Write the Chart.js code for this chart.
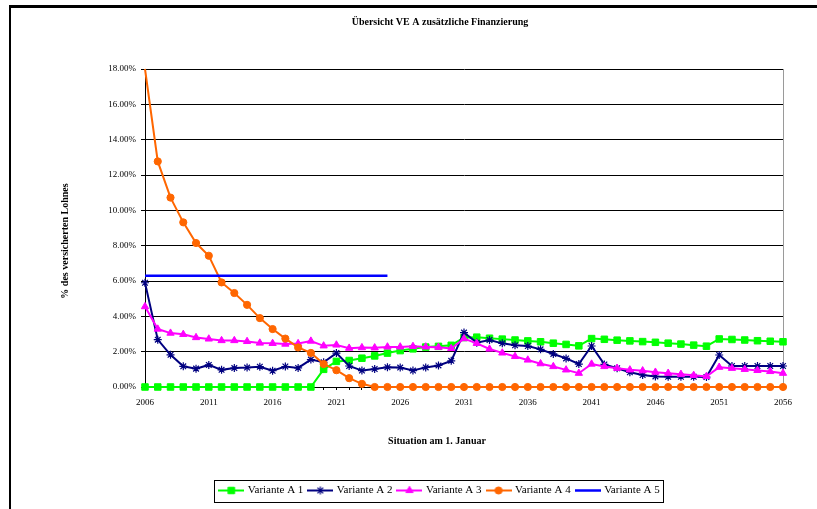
<!DOCTYPE html>
<html>
<head>
<meta charset="utf-8">
<script src="https://cdn.jsdelivr.net/npm/chart.js@4/dist/chart.umd.min.js"></script>
<style>
  html, body { margin: 0; padding: 0; background: #fff; overflow: hidden; }
  #wrap { position: relative; width: 817px; height: 509px; overflow: hidden; }
  #frame { position: absolute; left: 9px; top: 5px; width: 900px; height: 600px;
           border-left: 2px solid #000; border-top: 3px solid #000; }
  #c { position: absolute; left: 0; top: 0; }
</style>
</head>
<body>
<div id="wrap">
  <div id="frame"></div>
  <canvas id="c" width="817" height="509"></canvas>
</div>
<script>
// Years on the x axis (1 January of each year)
const years = ['2006','2007','2008','2009','2010','2011','2012','2013','2014','2015',
               '2016','2017','2018','2019','2020','2021','2022','2023','2024','2025',
               '2026','2027','2028','2029','2030','2031','2032','2033','2034','2035',
               '2036','2037','2038','2039','2040','2041','2042','2043','2044','2045',
               '2046','2047','2048','2049','2050','2051','2052','2053','2054','2055','2056'];
// Years that carry a label
const labelledYears = ['2006','2011','2016','2021','2026','2031','2036','2041','2046','2051','2056'];

// Additional financing in % of insured salary
const varianteA1 = [0,0,0,0,0,0,0,0,0,0,
                    0,0,0,0,1.0,1.45,1.5,1.63,1.76,1.92,
                    2.06,2.16,2.26,2.3,2.36,2.8,2.82,2.76,2.71,2.66,
                    2.61,2.56,2.48,2.41,2.33,2.74,2.70,2.65,2.61,2.57,
                    2.53,2.48,2.43,2.37,2.31,2.72,2.69,2.66,2.62,2.59,2.56];
const varianteA2 = [5.9,2.68,1.82,1.17,1.04,1.25,0.97,1.07,1.1,1.15,
                    0.92,1.16,1.08,1.55,1.4,1.92,1.19,0.93,1.02,1.12,
                    1.1,0.93,1.11,1.22,1.48,3.08,2.51,2.66,2.47,2.36,
                    2.32,2.13,1.87,1.62,1.3,2.32,1.28,1.06,0.83,0.68,
                    0.6,0.58,0.58,0.58,0.56,1.81,1.19,1.19,1.19,1.19,1.19];
const varianteA3 = [4.55,3.28,3.05,2.98,2.8,2.72,2.63,2.63,2.58,2.49,
                    2.47,2.43,2.46,2.6,2.33,2.38,2.2,2.23,2.22,2.27,
                    2.27,2.3,2.27,2.25,2.18,2.74,2.47,2.15,1.93,1.73,
                    1.53,1.32,1.16,0.97,0.78,1.3,1.16,1.06,0.97,0.92,
                    0.84,0.78,0.72,0.66,0.6,1.12,1.06,1.0,0.94,0.88,0.78];
const varianteA4 = [18.0,12.77,10.72,9.32,8.15,7.43,5.92,5.32,4.65,3.9,
                    3.28,2.74,2.24,1.93,1.3,0.95,0.5,0.18,0,0,
                    0,0,0,0,0,0,0,0,0,0,
                    0,0,0,0,0,0,0,0,0,0,
                    0,0,0,0,0,0,0,0,0,0,0];
const varianteA5 = [6.3,6.3,6.3,6.3,6.3,6.3,6.3,6.3,6.3,6.3,
                    6.3,6.3,6.3,6.3,6.3,6.3,6.3,6.3,6.3,6.3];

const seriesNames = ['Variante A 1','Variante A 2','Variante A 3','Variante A 4','Variante A 5'];
const chartTitle = 'Übersicht VE A zusätzliche Finanzierung';
const xTitle = 'Situation am 1. Januar';
const yTitle = '% des versicherten Lohnes';

const FONT = '"Liberation Serif", "Times New Roman", serif';

function series(label, data, color, style, radius, width, order) {
  return {
    label, data, order,
    borderColor: color, backgroundColor: color,
    borderWidth: width, tension: 0,
    pointStyle: style || false,
    pointRadius: style ? (ctx => (ctx.parsed && ctx.parsed.y >= 18 ? 0 : radius)) : 0,
    pointBackgroundColor: color, pointBorderColor: color,
    pointBorderWidth: style === 'star' ? 1.2 : 1,
    pointHoverRadius: radius,
    clip: false,
    legendMarker: { style, radius }
  };
}

const datasets = [
  series(seriesNames[0], varianteA1, '#00ff00', 'rect', 4.6, 2, 5),
  series(seriesNames[1], varianteA2, '#000080', 'star', 4, 2, 4),
  series(seriesNames[2], varianteA3, '#ff00ff', 'triangle', 4.2, 2, 3),
  series(seriesNames[3], varianteA4, '#ff6600', 'circle', 3.6, 2, 2),
  series(seriesNames[4], varianteA5, '#0000ff', null, 0, 2.5, 1)
];

// Small line-with-marker swatch for a legend entry
function legendIcon(ds) {
  const cv = document.createElement('canvas');
  cv.width = 26; cv.height = 11;
  const g = cv.getContext('2d');
  g.strokeStyle = ds.borderColor;
  g.lineWidth = ds.borderWidth;
  g.beginPath(); g.moveTo(0, 5.5); g.lineTo(26, 5.5); g.stroke();
  const m = ds.legendMarker;
  if (m.style) {
    g.fillStyle = ds.pointBackgroundColor;
    g.strokeStyle = ds.pointBorderColor;
    g.lineWidth = ds.pointBorderWidth;
    Chart.helpers.drawPoint(g, { pointStyle: m.style, radius: m.radius, borderWidth: ds.pointBorderWidth, rotation: 0 }, 13, 5.5);
  }
  return cv;
}

const decorations = {
  id: 'decorations',
  beforeDatasetsDraw(chart) {
    const { ctx, chartArea: a } = chart;
    ctx.save();
    ctx.strokeStyle = '#9a9a9a';
    ctx.lineWidth = 1;
    ctx.beginPath();
    ctx.moveTo(Math.round(a.right) + 0.5, a.top);
    ctx.lineTo(Math.round(a.right) + 0.5, a.bottom);
    ctx.stroke();
    ctx.restore();
  },
  afterDraw(chart) {
    const { ctx, chartArea: a, legend } = chart;
    ctx.save();
    ctx.fillStyle = '#000';
    ctx.font = 'bold 10px ' + FONT;
    ctx.textAlign = 'center';
    ctx.textBaseline = 'middle';
    const cx = (legend.left + legend.right) / 2;
    ctx.fillText(xTitle, cx - 3, a.bottom + 54);
    ctx.translate(65, (a.top + a.bottom) / 2 + 13);
    ctx.rotate(-Math.PI / 2);
    ctx.fillText(yTitle, 0, 0);
    ctx.restore();

    // frame around the legend entries
    const hb = legend.legendHitBoxes;
    if (hb && hb.length) {
      const l = Math.min(...hb.map(h => h.left)) - 6;
      const r = Math.max(...hb.map(h => h.left + h.width)) + 4;
      const t = Math.min(...hb.map(h => h.top)) - 5;
      const b = Math.max(...hb.map(h => h.top + h.height)) + 6;
      ctx.save();
      ctx.strokeStyle = '#000';
      ctx.lineWidth = 1;
      ctx.strokeRect(Math.round(l) + 0.5, Math.round(t) + 0.5, Math.round(r - l), Math.round(b - t));
      ctx.restore();
    }
  }
};

new Chart(document.getElementById('c'), {
  type: 'line',
  data: { labels: years, datasets },
  plugins: [decorations],
  options: {
    responsive: false,
    animation: false,
    events: [],
    layout: { padding: { left: 97, right: 34, top: 0, bottom: 3 } },
    plugins: {
      title: {
        display: true, text: chartTitle, color: '#000',
        font: { family: FONT, size: 10, weight: 'bold' },
        padding: { top: 16, bottom: 41 }
      },
      legend: {
        position: 'bottom',
        labels: {
          usePointStyle: true, pointStyleWidth: 22, padding: 6,
          color: '#000', font: { family: FONT, size: 11 },
          generateLabels: chart => chart.data.datasets.map((ds, i) => ({
            text: ds.label, datasetIndex: i, hidden: false,
            pointStyle: legendIcon(ds), fontColor: '#000',
            fillStyle: 'transparent', strokeStyle: 'transparent', lineWidth: 0
          }))
        }
      },
      tooltip: { enabled: false }
    },
    scales: {
      x: {
        type: 'category', offset: false,
        grid: { drawOnChartArea: false, drawTicks: true, tickLength: 3, color: '#000' },
        border: { color: '#000', width: 1 },
        ticks: {
          autoSkip: false, maxRotation: 0, minRotation: 0, padding: 7,
          color: '#000', font: { family: FONT, size: 9 },
          callback: (v, i) => labelledYears.includes(years[i]) ? years[i] : ''
        },
        afterFit: s => { s.height = 92; }
      },
      y: {
        min: 0, max: 18,
        grid: { color: '#000', lineWidth: 1, tickLength: 4 },
        border: { color: '#000', width: 1 },
        ticks: {
          stepSize: 2, padding: 5, color: '#000',
          font: { family: FONT, size: 9 },
          callback: v => v.toFixed(2) + '%'
        },
        afterFit: s => { s.width = 48; }
      }
    }
  }
});
</script>
</body>
</html>
